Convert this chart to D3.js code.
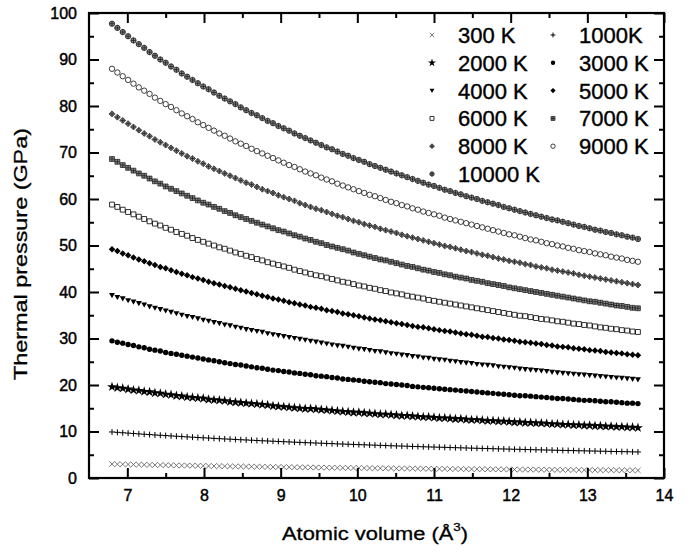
<!DOCTYPE html>
<html>
<head>
<meta charset="utf-8">
<script src="https://cdn.jsdelivr.net/npm/d3@7"></script>
<style>
  body { margin: 0; background: #fff; }
  text { font-family: Arial, "Liberation Sans", sans-serif; fill: #000; }
</style>
</head>
<body>
<svg id="chart" width="699" height="554"></svg>
<script>
// atomic volume (A^3) of every computed point
const volume = [6.8,6.87,6.94,7.01,7.08,7.15,7.22,7.29,7.36,7.43,
  7.5,7.57,7.64,7.71,7.78,7.85,7.92,7.99,8.06,8.13,
  8.2,8.27,8.34,8.41,8.48,8.55,8.62,8.69,8.76,8.83,
  8.9,8.97,9.04,9.11,9.18,9.25,9.32,9.39,9.46,9.53,
  9.6,9.67,9.74,9.81,9.88,9.95,10.02,10.09,10.16,10.23,
  10.3,10.37,10.44,10.51,10.58,10.65,10.72,10.79,10.86,10.93,
  11.0,11.07,11.14,11.21,11.28,11.35,11.42,11.49,11.56,11.63,
  11.7,11.77,11.84,11.91,11.98,12.05,12.12,12.19,12.26,12.33,
  12.4,12.47,12.54,12.61,12.68,12.75,12.82,12.89,12.96,13.03,
  13.1,13.17,13.24,13.31,13.38,13.45,13.52,13.59,13.66];

// thermal pressure (GPa) for each temperature
const p300 = [3.00,2.97,2.95,2.92,2.90,2.87,2.85,2.82,2.80,2.78,
  2.75,2.73,2.71,2.69,2.67,2.65,2.63,2.61,2.59,2.57,
  2.55,2.53,2.51,2.49,2.48,2.46,2.44,2.42,2.41,2.39,
  2.37,2.36,2.34,2.33,2.31,2.30,2.28,2.27,2.25,2.24,
  2.23,2.21,2.20,2.18,2.17,2.16,2.15,2.13,2.12,2.11,
  2.10,2.08,2.07,2.06,2.05,2.04,2.02,2.01,2.00,1.99,
  1.98,1.97,1.96,1.95,1.94,1.93,1.92,1.91,1.90,1.89,
  1.88,1.87,1.86,1.85,1.84,1.83,1.82,1.82,1.81,1.80,
  1.79,1.78,1.77,1.76,1.76,1.75,1.74,1.73,1.72,1.72,
  1.71,1.70,1.69,1.69,1.68,1.67,1.66,1.66,1.65];
const p1000 = [9.90,9.82,9.73,9.65,9.57,9.49,9.41,9.34,9.26,9.19,
  9.12,9.05,8.98,8.91,8.84,8.78,8.71,8.65,8.59,8.52,
  8.46,8.40,8.35,8.29,8.23,8.18,8.12,8.07,8.01,7.96,
  7.91,7.86,7.81,7.76,7.71,7.66,7.61,7.57,7.52,7.48,
  7.43,7.39,7.34,7.30,7.26,7.22,7.18,7.14,7.10,7.06,
  7.02,6.98,6.94,6.90,6.87,6.83,6.79,6.76,6.72,6.69,
  6.65,6.62,6.59,6.55,6.52,6.49,6.46,6.42,6.39,6.36,
  6.33,6.30,6.27,6.24,6.21,6.18,6.16,6.13,6.10,6.07,
  6.04,6.02,5.99,5.96,5.94,5.91,5.89,5.86,5.84,5.81,
  5.79,5.76,5.74,5.71,5.69,5.67,5.65,5.62,5.60];
const p2000 = [19.6,19.4,19.3,19.1,18.9,18.8,18.6,18.5,18.3,18.2,
  18.0,17.9,17.7,17.6,17.4,17.3,17.2,17.1,16.9,16.8,
  16.7,16.6,16.4,16.3,16.2,16.1,16.0,15.9,15.8,15.7,
  15.5,15.4,15.3,15.2,15.1,15.0,14.9,14.9,14.8,14.7,
  14.6,14.5,14.4,14.3,14.2,14.1,14.1,14.0,13.9,13.8,
  13.7,13.7,13.6,13.5,13.4,13.4,13.3,13.2,13.1,13.1,
  13.0,12.9,12.9,12.8,12.7,12.7,12.6,12.5,12.5,12.4,
  12.3,12.3,12.2,12.2,12.1,12.0,12.0,11.9,11.9,11.8,
  11.8,11.7,11.6,11.6,11.5,11.5,11.4,11.4,11.3,11.3,
  11.2,11.2,11.1,11.1,11.0,11.0,10.9,10.9,10.8];
const p3000 = [29.5,29.2,29.0,28.7,28.5,28.2,28.0,27.7,27.5,27.3,
  27.0,26.8,26.6,26.4,26.2,26.0,25.8,25.6,25.4,25.2,
  25.0,24.8,24.6,24.4,24.3,24.1,23.9,23.7,23.6,23.4,
  23.2,23.1,22.9,22.8,22.6,22.5,22.3,22.2,22.0,21.9,
  21.8,21.6,21.5,21.3,21.2,21.1,21.0,20.8,20.7,20.6,
  20.5,20.3,20.2,20.1,20.0,19.9,19.7,19.6,19.5,19.4,
  19.3,19.2,19.1,19.0,18.9,18.8,18.7,18.6,18.5,18.4,
  18.3,18.2,18.1,18.0,17.9,17.8,17.7,17.7,17.6,17.5,
  17.4,17.3,17.2,17.1,17.1,17.0,16.9,16.8,16.7,16.7,
  16.6,16.5,16.4,16.4,16.3,16.2,16.1,16.1,16.0];
const p4000 = [39.3,38.9,38.6,38.2,37.9,37.6,37.3,36.9,36.6,36.3,
  36.0,35.7,35.4,35.1,34.8,34.6,34.3,34.0,33.8,33.5,
  33.3,33.0,32.8,32.5,32.3,32.0,31.8,31.6,31.4,31.1,
  30.9,30.7,30.5,30.3,30.1,29.9,29.7,29.5,29.3,29.1,
  28.9,28.7,28.5,28.4,28.2,28.0,27.8,27.7,27.5,27.3,
  27.2,27.0,26.8,26.7,26.5,26.4,26.2,26.1,25.9,25.8,
  25.6,25.5,25.4,25.2,25.1,24.9,24.8,24.7,24.5,24.4,
  24.3,24.2,24.0,23.9,23.8,23.7,23.5,23.4,23.3,23.2,
  23.1,23.0,22.8,22.7,22.6,22.5,22.4,22.3,22.2,22.1,
  22.0,21.9,21.8,21.7,21.6,21.5,21.4,21.3,21.2];
const p5000 = [49.2,48.8,48.3,47.9,47.4,47.0,46.6,46.2,45.8,45.4,
  45.1,44.7,44.3,43.9,43.6,43.2,42.9,42.6,42.2,41.9,
  41.6,41.3,41.0,40.7,40.4,40.1,39.8,39.5,39.2,38.9,
  38.6,38.4,38.1,37.8,37.6,37.3,37.1,36.8,36.6,36.4,
  36.1,35.9,35.7,35.4,35.2,35.0,34.8,34.5,34.3,34.1,
  33.9,33.7,33.5,33.3,33.1,32.9,32.7,32.5,32.4,32.2,
  32.0,31.8,31.6,31.5,31.3,31.1,30.9,30.8,30.6,30.4,
  30.3,30.1,30.0,29.8,29.7,29.5,29.3,29.2,29.1,28.9,
  28.8,28.6,28.5,28.3,28.2,28.1,27.9,27.8,27.7,27.5,
  27.4,27.3,27.1,27.0,26.9,26.8,26.6,26.5,26.4];
const p6000 = [58.8,58.3,57.7,57.2,56.7,56.2,55.7,55.2,54.7,54.3,
  53.8,53.4,52.9,52.5,52.1,51.6,51.2,50.8,50.4,50.0,
  49.6,49.3,48.9,48.5,48.2,47.8,47.5,47.1,46.8,46.4,
  46.1,45.8,45.5,45.2,44.8,44.5,44.2,43.9,43.6,43.4,
  43.1,42.8,42.5,42.2,42.0,41.7,41.4,41.2,40.9,40.7,
  40.4,40.2,39.9,39.7,39.5,39.2,39.0,38.8,38.6,38.3,
  38.1,37.9,37.7,37.5,37.3,37.1,36.9,36.7,36.5,36.3,
  36.1,35.9,35.7,35.5,35.3,35.1,34.9,34.8,34.6,34.4,
  34.2,34.1,33.9,33.7,33.6,33.4,33.2,33.1,32.9,32.8,
  32.6,32.4,32.3,32.1,32.0,31.8,31.7,31.5,31.4];
const p7000 = [68.6,68.0,67.3,66.7,66.1,65.5,65.0,64.4,63.8,63.3,
  62.7,62.2,61.7,61.2,60.7,60.2,59.7,59.2,58.8,58.3,
  57.9,57.4,57.0,56.5,56.1,55.7,55.3,54.9,54.5,54.1,
  53.7,53.3,53.0,52.6,52.2,51.9,51.5,51.2,50.8,50.5,
  50.1,49.8,49.5,49.2,48.9,48.5,48.2,47.9,47.6,47.3,
  47.0,46.8,46.5,46.2,45.9,45.6,45.4,45.1,44.8,44.6,
  44.3,44.1,43.8,43.6,43.3,43.1,42.9,42.6,42.4,42.2,
  41.9,41.7,41.5,41.3,41.0,40.8,40.6,40.4,40.2,40.0,
  39.8,39.6,39.4,39.2,39.0,38.8,38.6,38.4,38.2,38.0,
  37.9,37.7,37.5,37.3,37.1,37.0,36.8,36.6,36.5];
const p8000 = [78.3,77.6,76.9,76.2,75.5,74.8,74.1,73.5,72.8,72.2,
  71.6,71.0,70.4,69.8,69.2,68.7,68.1,67.6,67.0,66.5,
  66.0,65.5,65.0,64.5,64.0,63.5,63.1,62.6,62.1,61.7,
  61.3,60.8,60.4,60.0,59.6,59.1,58.7,58.3,57.9,57.6,
  57.2,56.8,56.4,56.1,55.7,55.3,55.0,54.6,54.3,54.0,
  53.6,53.3,53.0,52.7,52.3,52.0,51.7,51.4,51.1,50.8,
  50.5,50.2,49.9,49.7,49.4,49.1,48.8,48.6,48.3,48.0,
  47.8,47.5,47.2,47.0,46.7,46.5,46.3,46.0,45.8,45.5,
  45.3,45.1,44.8,44.6,44.4,44.2,44.0,43.7,43.5,43.3,
  43.1,42.9,42.7,42.5,42.3,42.1,41.9,41.7,41.5];
const p9000 = [88.0,87.2,86.4,85.6,84.8,84.0,83.3,82.6,81.8,81.1,
  80.4,79.8,79.1,78.4,77.8,77.2,76.5,75.9,75.3,74.7,
  74.1,73.6,73.0,72.4,71.9,71.4,70.8,70.3,69.8,69.3,
  68.8,68.3,67.8,67.3,66.9,66.4,65.9,65.5,65.1,64.6,
  64.2,63.8,63.3,62.9,62.5,62.1,61.7,61.3,60.9,60.6,
  60.2,59.8,59.4,59.1,58.7,58.4,58.0,57.7,57.3,57.0,
  56.7,56.4,56.0,55.7,55.4,55.1,54.8,54.5,54.2,53.9,
  53.6,53.3,53.0,52.7,52.4,52.2,51.9,51.6,51.3,51.1,
  50.8,50.5,50.3,50.0,49.8,49.5,49.3,49.0,48.8,48.6,
  48.3,48.1,47.9,47.6,47.4,47.2,46.9,46.7,46.5];
const p10000 = [97.7,96.8,95.9,95.0,94.1,93.3,92.5,91.6,90.8,90.0,
  89.3,88.5,87.8,87.0,86.3,85.6,84.9,84.2,83.6,82.9,
  82.2,81.6,81.0,80.4,79.7,79.1,78.5,78.0,77.4,76.8,
  76.3,75.7,75.2,74.7,74.1,73.6,73.1,72.6,72.1,71.6,
  71.1,70.7,70.2,69.7,69.3,68.8,68.4,68.0,67.5,67.1,
  66.7,66.3,65.9,65.5,65.1,64.7,64.3,63.9,63.5,63.1,
  62.8,62.4,62.0,61.7,61.3,61.0,60.6,60.3,60.0,59.6,
  59.3,59.0,58.7,58.3,58.0,57.7,57.4,57.1,56.8,56.5,
  56.2,55.9,55.6,55.4,55.1,54.8,54.5,54.2,54.0,53.7,
  53.4,53.2,52.9,52.7,52.4,52.2,51.9,51.7,51.4];

const labels = ["300 K", "1000K", "2000 K", "3000 K", "4000 K", "5000 K",
  "6000 K", "7000 K", "8000 K", "9000 K", "10000 K"];
const xMajor = [7, 8, 9, 10, 11, 12, 13, 14];
const xMinor = [7.5, 8.5, 9.5, 10.5, 11.5, 12.5, 13.5];
const yMajor = [0, 10, 20, 30, 40, 50, 60, 70, 80, 90, 100];
const yMinor = [5, 15, 25, 35, 45, 55, 65, 75, 85, 95];

const series = [
  { label: labels[0], values: p300, marker: "cross" },
  { label: labels[1], values: p1000, marker: "plus" },
  { label: labels[2], values: p2000, marker: "star" },
  { label: labels[3], values: p3000, marker: "dot" },
  { label: labels[4], values: p4000, marker: "triDown" },
  { label: labels[5], values: p5000, marker: "diamond" },
  { label: labels[6], values: p6000, marker: "square" },
  { label: labels[7], values: p7000, marker: "squarePlus" },
  { label: labels[8], values: p8000, marker: "diamondPlus" },
  { label: labels[9], values: p9000, marker: "circle" },
  { label: labels[10], values: p10000, marker: "circlePlus" }
];

const svg = d3.select("#chart");
const plot = { left: 89, right: 664, top: 13, bottom: 478 };

const x = d3.scaleLinear().domain([6.5, 14]).range([plot.left, plot.right]);
const y = d3.scaleLinear().domain([0, 100]).range([plot.bottom, plot.top]);

// marker shapes, r = half size
const circ = r => `M${r},0A${r},${r} 0 1,1 ${-r},0A${r},${r} 0 1,1 ${r},0Z`;
const sq = r => `M${-r},${-r}h${2 * r}v${2 * r}h${-2 * r}Z`;
const cr = r => `M${-r},0H${r}M0,${-r}V${r}`;
const dia = r => `M0,${-r}L${r},0L0,${r}L${-r},0Z`;
const markers = {
  cross:       { d: r => `M${-r},${-r}L${r},${r}M${-r},${r}L${r},${-r}`, fill: "none", stroke: "#555", sw: 0.8 },
  plus:        { d: r => cr(r * 1.1), fill: "none", stroke: "#000", sw: 1 },
  star:        { d: r => d3.symbol(d3.symbolStar, r * r * 4.2)(), fill: "#000", stroke: "none", sw: 0 },
  dot:         { d: r => circ(r), fill: "#000", stroke: "none", sw: 0 },
  triDown:     { d: r => `M${-r * 1.1},${-r * 0.8}L${r * 1.1},${-r * 0.8}L0,${r * 1.1}Z`, fill: "#000", stroke: "none", sw: 0 },
  diamond:     { d: r => dia(r * 1.2), fill: "#000", stroke: "none", sw: 0 },
  square:      { d: r => sq(r * 0.9), fill: "none", stroke: "#000", sw: 0.8 },
  squarePlus:  { d: r => sq(r * 0.9) + cr(r * 0.9), fill: "#888", stroke: "#111", sw: 0.7 },
  diamondPlus: { d: r => dia(r * 1.1) + cr(r * 0.8), fill: "#888", stroke: "#111", sw: 0.7 },
  circle:      { d: r => circ(r), fill: "none", stroke: "#111", sw: 0.8 },
  circlePlus:  { d: r => circ(r) + cr(r), fill: "#888", stroke: "#111", sw: 0.7 }
};

function drawMarker(sel, type, r) {
  const m = markers[type];
  sel.attr("d", m.d(r))
    .attr("fill", m.fill)
    .attr("stroke", m.stroke)
    .attr("stroke-width", m.sw);
}

// data points
const dataG = svg.append("g");
series.forEach(s => {
  const pts = volume.map((v, i) => [v, s.values[i]]).filter(d => d[1] != null);
  dataG.append("g")
    .selectAll("path")
    .data(pts)
    .join("path")
      .attr("transform", d => `translate(${x(d[0])},${y(d[1])})`)
      .call(drawMarker, s.marker, 2.7);
});

// axes with inward ticks
function styleAxis(g) {
  g.select(".domain").remove();
  g.selectAll(".tick line").attr("stroke", "#000").attr("stroke-width", 2);
  g.selectAll(".tick text").attr("font-size", 16).attr("fill", "#000")
    .attr("stroke", "#000").attr("stroke-width", 0.45);
}
svg.append("g").attr("transform", `translate(0,${plot.bottom})`)
  .call(d3.axisBottom(x).tickValues(xMajor).tickSize(-10).tickPadding(12).tickFormat(d3.format("d"))).call(styleAxis);
svg.append("g").attr("transform", `translate(0,${plot.bottom})`)
  .call(d3.axisBottom(x).tickValues(xMinor).tickSize(-5).tickFormat("")).call(styleAxis);
svg.append("g").attr("transform", `translate(0,${plot.top})`)
  .call(d3.axisTop(x).tickValues(xMajor).tickSize(-10).tickFormat("")).call(styleAxis);
svg.append("g").attr("transform", `translate(0,${plot.top})`)
  .call(d3.axisTop(x).tickValues(xMinor).tickSize(-5).tickFormat("")).call(styleAxis);
svg.append("g").attr("transform", `translate(${plot.left},0)`)
  .call(d3.axisLeft(y).tickValues(yMajor).tickSize(-10).tickPadding(12).tickFormat(d3.format("d"))).call(styleAxis);
svg.append("g").attr("transform", `translate(${plot.left},0)`)
  .call(d3.axisLeft(y).tickValues(yMinor).tickSize(-5).tickFormat("")).call(styleAxis);
svg.append("g").attr("transform", `translate(${plot.right},0)`)
  .call(d3.axisRight(y).tickValues(yMajor).tickSize(-10).tickFormat("")).call(styleAxis);
svg.append("g").attr("transform", `translate(${plot.right},0)`)
  .call(d3.axisRight(y).tickValues(yMinor).tickSize(-5).tickFormat("")).call(styleAxis);

// frame
svg.append("rect")
  .attr("x", plot.left).attr("y", plot.top)
  .attr("width", plot.right - plot.left).attr("height", plot.bottom - plot.top)
  .attr("fill", "none").attr("stroke", "#000").attr("stroke-width", 2.2);

// axis titles (wide lettering, as in the source figure)
const xt = svg.append("text")
  .attr("x", 375).attr("y", 540)
  .attr("text-anchor", "middle").attr("font-size", 18)
  .attr("textLength", 186).attr("lengthAdjust", "spacingAndGlyphs")
  .attr("stroke", "#000").attr("stroke-width", 0.3);
xt.append("tspan").text("Atomic volume (\u00C5");
xt.append("tspan").attr("font-size", 11).attr("dy", -9).text("3");
xt.append("tspan").attr("dy", 9).text(")");

svg.append("text")
  .attr("transform", `translate(27,254) rotate(-90)`)
  .attr("text-anchor", "middle").attr("font-size", 18)
  .attr("textLength", 252).attr("lengthAdjust", "spacingAndGlyphs")
  .attr("stroke", "#000").attr("stroke-width", 0.3)
  .text("Thermal pressure (GPa)");

// legend, two columns
const legend = svg.append("g");
series.forEach((s, i) => {
  const col = i % 2, row = Math.floor(i / 2);
  const lx = col === 0 ? 432 : 553;
  const ly = 35 + row * 27.8;
  legend.append("path")
    .attr("transform", `translate(${lx},${ly})`)
    .call(drawMarker, s.marker, 2.2);
  legend.append("text")
    .attr("x", lx + 26).attr("y", ly).attr("dy", "0.36em")
    .attr("font-size", 22)
    .attr("stroke", "#000").attr("stroke-width", 0.4)
    .text(s.label);
});
</script>
</body>
</html>
